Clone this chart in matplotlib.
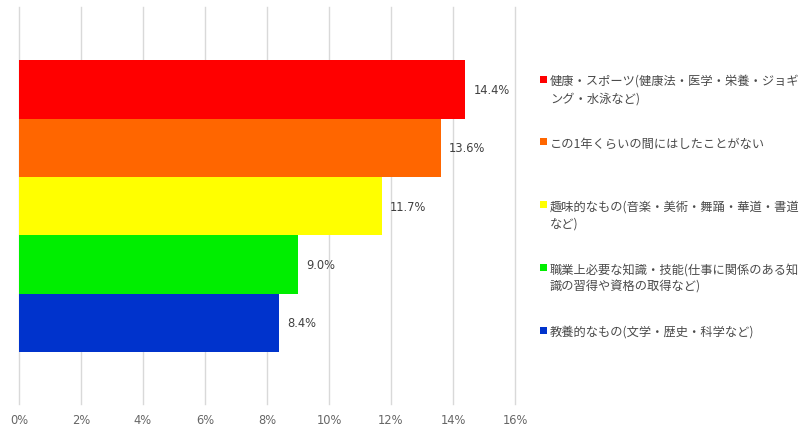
import numpy as np
import matplotlib.pyplot as plt
from matplotlib.patches import Rectangle

plt.rcParams['font.family'] = ['Noto Sans CJK JP', 'DejaVu Sans']

# data
labels = [
    '健康・スポーツ(健康法・医学・栄養・ジョギ\nング・水泳など)',
    'この1年くらいの間にはしたことがない',
    '趣味的なもの(音楽・美術・舞踊・華道・書道\nなど)',
    '職業上必要な知識・技能(仕事に関係のある知\n識の習得や資格の取得など)',
    '教養的なもの(文学・歴史・科学など)',
]
values = [14.4, 13.6, 11.7, 9.0, 8.4]
colors = ['#ff0000', '#ff6600', '#ffff00', '#00ee00', '#0033cc']
xticks = [0, 2, 4, 6, 8, 10, 12, 14, 16]

fig = plt.figure(figsize=(8.01, 4.27), dpi=100)
ax = fig.add_axes([19/801, 22/427, 496/801, 397/427])

pos = np.arange(len(values))
ax.barh(pos, values, height=1.0, color=colors, zorder=2)
ax.set_ylim(4.5 + 0.89, -0.5 - 0.91)
ax.set_xlim(0, 16)

numfont = dict(family='DejaVu Sans', fontsize=8.3)
for p, v in zip(pos, values):
    ax.annotate(f'{v:.1f}%', (v, p), xytext=(6, 0), textcoords='offset points',
                va='center', ha='left', color='#404040', **numfont)

ax.set_xticks(xticks)
ax.set_xticklabels([f'{t}%' for t in xticks], color='#666666', **numfont)
ax.set_yticks([])
ax.tick_params(axis='x', length=0, pad=6.5)
ax.grid(axis='x', color='#d9d9d9', linewidth=1, zorder=0)
for gl in ax.get_xgridlines():
    gl.set_clip_on(False)
for s in ax.spines.values():
    s.set_visible(False)

# legend on the right, drawn by hand to keep the even spacing
W, H = 801, 427
for i, (lab, c) in enumerate(zip(labels, colors)):
    y = 80 + i * 62.75
    fig.patches.append(Rectangle((540 / W, 1 - (y + 3.5) / H), 7 / W, 7 / H,
                                 transform=fig.transFigure, facecolor=c,
                                 edgecolor='none', figure=fig))
    fig.text(550 / W, 1 - (y - 5) / H, lab, fontsize=8.8, color='#4a4a4a',
             va='top', ha='left', linespacing=1.45)

fig.savefig('out.png', dpi=100)
